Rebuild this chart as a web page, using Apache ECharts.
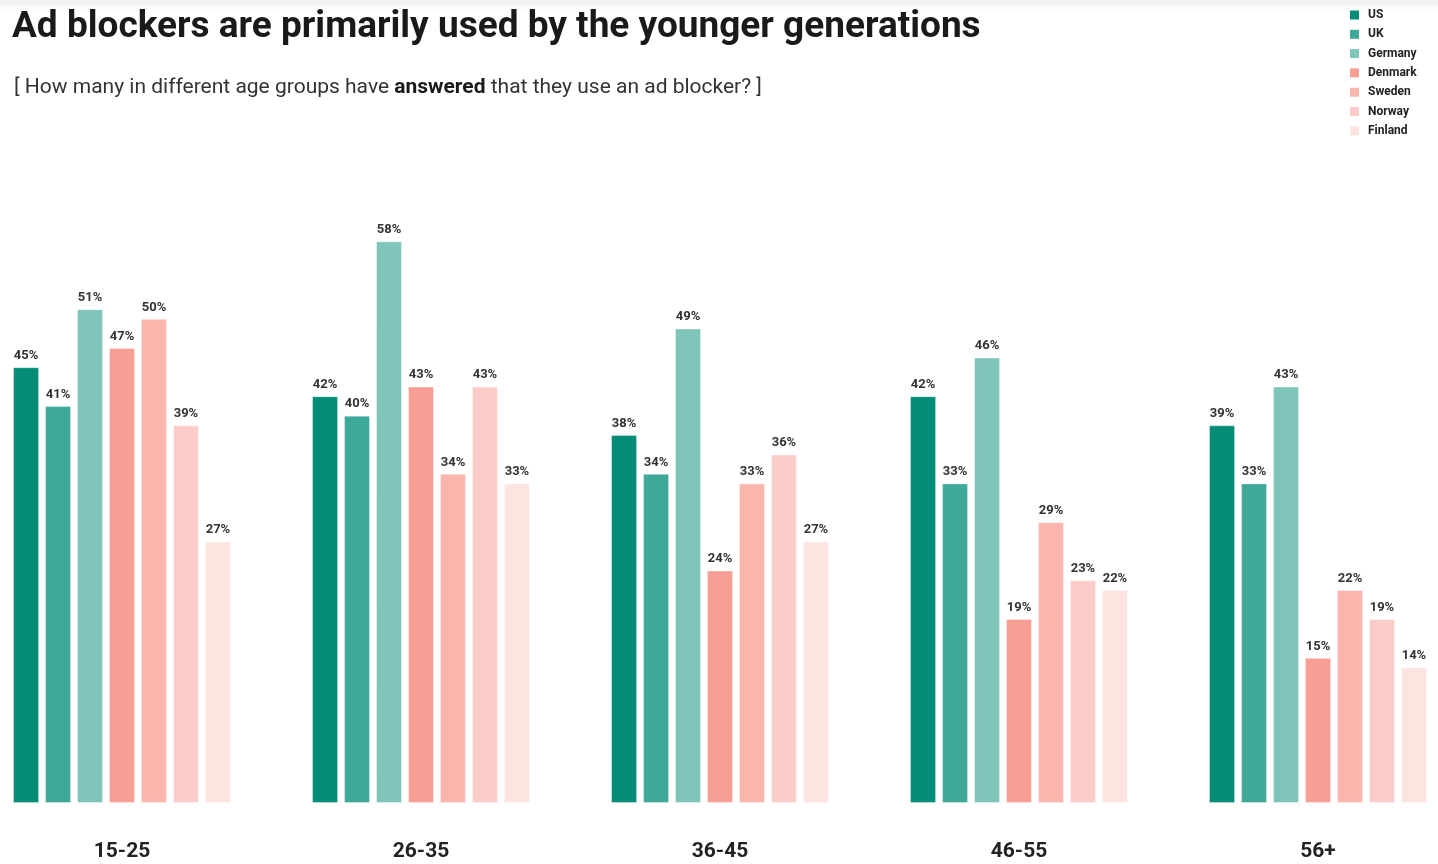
<!DOCTYPE html>
<html><head><meta charset="utf-8">
<script src="https://cdn.jsdelivr.net/npm/echarts@6/dist/echarts.min.js"></script>
<style>html,body{margin:0;padding:0;background:#fff}#c{width:1438px;height:864px}</style>
</head><body><div id="c"></div>
<script>
const categories = ['15-25','26-35','36-45','46-55','56+'];
const seriesNames = ['US','UK','Germany','Denmark','Sweden','Norway','Finland'];
const US = [45,42,38,42,39];
const UK = [41,40,34,33,33];
const Germany = [51,58,49,46,43];
const Denmark = [47,43,24,19,15];
const Sweden = [50,34,33,29,22];
const Norway = [39,43,36,23,19];
const Finland = [27,33,27,22,14];
const values = [US,UK,Germany,Denmark,Sweden,Norway,Finland];
const colors = ['#038c76','#3fa999','#80c5b9','#f99e94','#fab6ad','#fccdc8','#fde4e1'];
const FONT = 'Roboto';
const chart = echarts.init(document.getElementById('c'));
chart.setOption({
  animation:false,
  color:colors,
  graphic:[{type:'rect',left:0,top:0,shape:{width:1438,height:12},silent:true,z:-10,
    style:{fill:new echarts.graphic.LinearGradient(0,0,0,1,[
      {offset:0,color:'#f2f2f2'},{offset:0.4,color:'#f4f4f4'},{offset:0.5,color:'#fafafa'},{offset:1,color:'#ffffff'}])}}],
  title:[{
    text:'Ad blockers are primarily used by the younger generations',
    left:7, top:4,
    textStyle:{fontFamily:FONT,fontWeight:'bold',fontSize:37,color:'#1a1a1a'}
  },{
    text:'[ How many in different age groups have {b|answered} that they use an ad blocker? ]',
    left:9, top:72,
    textStyle:{fontFamily:FONT,fontWeight:'normal',fontSize:21,color:'#333',
      rich:{b:{fontFamily:FONT,fontWeight:'bold',fontSize:21,color:'#1a1a1a'}}}
  }],
  legend:{
    orient:'vertical', left:1345, top:4, itemGap:7.3, itemWidth:9, itemHeight:9,
    icon:'rect', itemStyle:{borderWidth:0},
    textStyle:{fontFamily:FONT,fontWeight:'bold',fontSize:12,color:'#222',padding:[0,0,0,4]},
    data:seriesNames
  },
  grid:{left:122, right:120, top:222, bottom:61, containLabel:false},
  xAxis:{type:'category',data:categories,boundaryGap:false,
    axisLine:{show:false},axisTick:{show:false},splitLine:{show:false},
    axisLabel:{margin:38,fontFamily:FONT,fontWeight:'bold',fontSize:21,color:'#222'}},
  yAxis:{type:'value',min:0,max:60,show:false,splitLine:{show:false}},
  series: seriesNames.map((n,i)=>({
    name:n,type:'bar',data:values[i],barWidth:26,barGap:'23%',clip:false,
    itemStyle:{color:colors[i],borderColor:'rgba(255,255,255,0.35)',borderWidth:1},
    label:{show:true,position:'top',distance:5,formatter:'{c}%',
      fontFamily:FONT,fontWeight:'bold',fontSize:13,color:'#333'}
  }))
});
</script></body></html>
